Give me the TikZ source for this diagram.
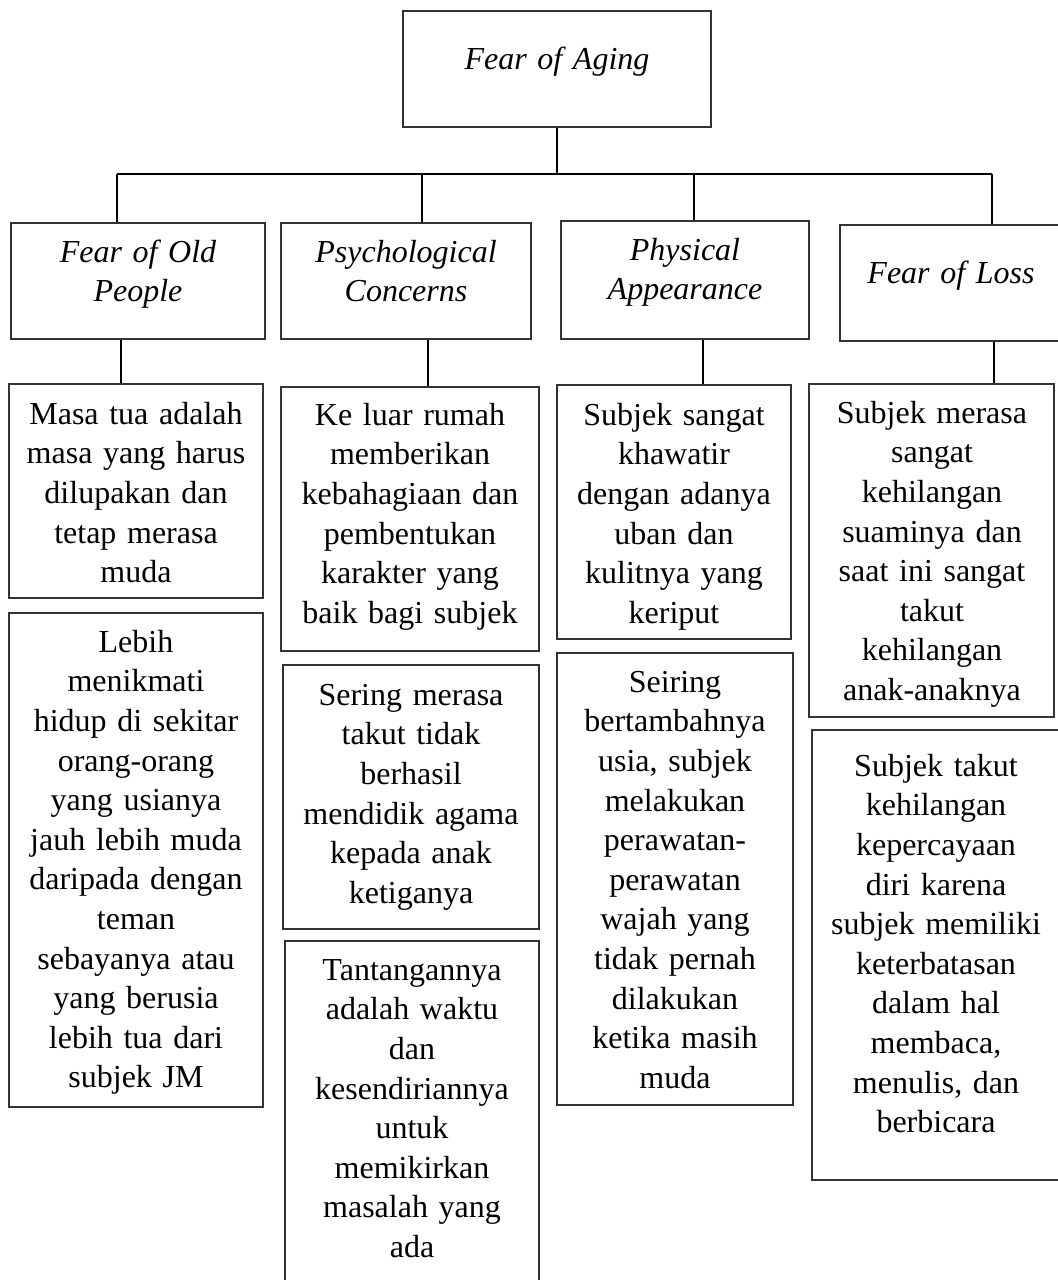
\documentclass[tikz,border=0pt]{standalone}
\usepackage{fontspec}
\setmainfont{Liberation Serif}
\begin{document}
\begin{tikzpicture}[
  x=0.75pt, y=-0.75pt,
  frame/.style={draw=black!80, line width=0.8pt, inner sep=0pt},
  wire/.style={draw=black, line width=1.2pt},
  boxtext/.style={anchor=north, inner sep=0pt, text width=240pt, align=center,
                  font=\fontsize{24}{29.7}\selectfont},
]
% rectangle given by its corners (x1,y1) and (x2,y2)
\newcommand\frameat[5]{%
  \node[frame, minimum width={(#4-(#2))*0.75pt}, minimum height={(#5-(#3))*0.75pt}]
    (#1) at ({(#2+#4)/2},{(#3+#5)/2}) {};}
% centred text block whose first baseline lies at y = #3
\newcommand\textat[4]{%
  \node[boxtext] (#1) at (#2,{#3-27.72}) {\strut #4};}

\useasboundingbox (0,0) rectangle (1057,1280);

% root
\frameat{top}{403}{11}{711}{127}
\textat{topT}{557}{69}{\itshape Fear of Aging}

% aspects
\frameat{h1}{11}{223}{265}{339}
\textat{h1T}{138}{262}{\itshape Fear of Old\\People}
\frameat{h2}{281}{223}{531}{339}
\textat{h2T}{406}{262}{\itshape Psychological\\Concerns}
\frameat{h3}{561}{221}{809}{339}
\textat{h3T}{685}{260}{\itshape Physical\\Appearance}
\frameat{h4}{840}{225}{1062}{341}
\textat{h4T}{951}{283}{\itshape Fear of Loss}

% findings, column 1
\frameat{c1a}{9}{384}{263}{598}
\textat{c1aT}{136}{424}{Masa tua adalah\\masa yang harus\\dilupakan dan\\tetap merasa\\muda}
\frameat{c1b}{9}{613}{263}{1107}
\textat{c1bT}{136}{652}{Lebih\\menikmati\\hidup di sekitar\\orang-orang\\yang usianya\\jauh lebih muda\\daripada dengan\\teman\\sebayanya atau\\yang berusia\\lebih tua dari\\subjek JM}

% findings, column 2
\frameat{c2a}{281}{387}{539}{651}
\textat{c2aT}{410}{425}{Ke luar rumah\\memberikan\\kebahagiaan dan\\pembentukan\\karakter yang\\baik bagi subjek}
\frameat{c2b}{283}{665}{539}{929}
\textat{c2bT}{411}{705}{Sering merasa\\takut tidak\\berhasil\\mendidik agama\\kepada anak\\ketiganya}
\frameat{c2c}{285}{941}{539}{1300}
\textat{c2cT}{412}{980}{Tantangannya\\adalah waktu\\dan\\kesendiriannya\\untuk\\memikirkan\\masalah yang\\ada}

% findings, column 3
\frameat{c3a}{557}{385}{791}{639}
\textat{c3aT}{674}{425}{Subjek sangat\\khawatir\\dengan adanya\\uban dan\\kulitnya yang\\keriput}
\frameat{c3b}{557}{653}{793}{1105}
\textat{c3bT}{675}{692}{Seiring\\bertambahnya\\usia, subjek\\melakukan\\perawatan-\\perawatan\\wajah yang\\tidak pernah\\dilakukan\\ketika masih\\muda}

% findings, column 4
\frameat{c4a}{809}{384}{1054}{717}
\textat{c4aT}{932}{423}{Subjek merasa\\sangat\\kehilangan\\suaminya dan\\saat ini sangat\\takut\\kehilangan\\anak-anaknya}
\frameat{c4b}{812}{730}{1060}{1180}
\textat{c4bT}{936}{776}{Subjek takut\\kehilangan\\kepercayaan\\diri karena\\subjek memiliki\\keterbatasan\\dalam hal\\membaca,\\menulis, dan\\berbicara}

% bus from the root to the four aspects
\coordinate (j1) at (117,174);
\coordinate (j2) at (422,174);
\coordinate (j3) at (694,174);
\coordinate (j4) at (992,174);
\draw[wire] (top.south) -- (top.south |- j1);
\draw[wire] (j1) -- (j4);
\draw[wire] (j1) -- (j1 |- h1.north);
\draw[wire] (j2) -- (j2 |- h2.north);
\draw[wire] (j3) -- (j3 |- h3.north);
\draw[wire] (j4) -- (j4 |- h4.north);

% links from each aspect to its first finding
\coordinate (k1) at (121,0);
\coordinate (k2) at (428,0);
\coordinate (k3) at (703,0);
\coordinate (k4) at (994,0);
\draw[wire] (h1.south -| k1) -- (c1a.north -| k1);
\draw[wire] (h2.south -| k2) -- (c2a.north -| k2);
\draw[wire] (h3.south -| k3) -- (c3a.north -| k3);
\draw[wire] (h4.south -| k4) -- (c4a.north -| k4);
\end{tikzpicture}
\end{document}
